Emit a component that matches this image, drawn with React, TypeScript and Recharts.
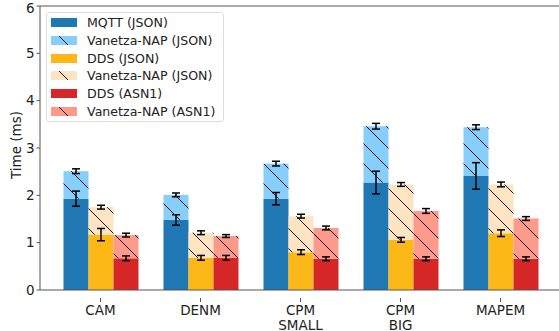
import React from "react";
import { BarChart, Bar, XAxis, YAxis, ErrorBar, ReferenceLine } from "recharts";

const categories = ["CAM", "DENM", "CPM\nSMALL", "CPM\nBIG", "MAPEM"];

// base segments + their errors
const mqttJson = [1.93, 1.48, 1.93, 2.27, 2.41];
const mqttJsonErr = [0.16, 0.11, 0.13, 0.24, 0.28];
const ddsJson = [1.17, 0.68, 0.8, 1.06, 1.2];
const ddsJsonErr = [0.13, 0.05, 0.05, 0.05, 0.07];
const ddsAsn1 = [0.67, 0.68, 0.66, 0.66, 0.66];
const ddsAsn1Err = [0.05, 0.05, 0.04, 0.04, 0.04];

// Vanetza-NAP segments stacked on top
const napMqtt = [0.58, 0.53, 0.74, 1.19, 1.03];
const napMqttErr = [0.05, 0.04, 0.05, 0.06, 0.05];
const napDdsJson = [0.58, 0.53, 0.76, 1.17, 1.03];
const napDdsJsonErr = [0.04, 0.04, 0.04, 0.04, 0.05];
const napDdsAsn1 = [0.49, 0.46, 0.65, 1.01, 0.85];
const napDdsAsn1Err = [0.04, 0.03, 0.04, 0.05, 0.04];

const yTicks = [0, 1, 2, 3, 4, 5, 6];

const data = categories.map((name, i) => ({
  name,
  mqtt: mqttJson[i],
  mqttErr: mqttJsonErr[i],
  napA: napMqtt[i],
  napAErr: napMqttErr[i],
  dds: ddsJson[i],
  ddsErr: ddsJsonErr[i],
  napB: napDdsJson[i],
  napBErr: napDdsJsonErr[i],
  asn: ddsAsn1[i],
  asnErr: ddsAsn1Err[i],
  napC: napDdsAsn1[i],
  napCErr: napDdsAsn1Err[i],
}));

const FONT = "DejaVu Sans, sans-serif";
const AXIS = "#555";

const colors = {
  blue: "#1f77b4",
  lightBlue: "#87cefa",
  orange: "#fcb817",
  peach: "#ffe4c4",
  red: "#d62728",
  salmon: "#fd9a8c",
};

function Hatch({ id, fill, size = 20 }: { id: string; fill: string; size?: number }) {
  return (
    <pattern id={id} patternUnits="userSpaceOnUse" width={size} height={size}>
      <rect width={size} height={size} fill={fill} />
      <path
        d={`M0,0 L${size},${size} M${-size / 2},${size / 2} L${size / 2},${size * 1.5} M${size / 2},${-size / 2} L${size * 1.5},${size / 2}`}
        stroke="#000"
        strokeWidth={0.9}
      />
    </pattern>
  );
}

const legendItems = [
  { label: "MQTT (JSON)", fill: colors.blue, hatch: false },
  { label: "Vanetza-NAP (JSON)", fill: colors.lightBlue, hatch: true },
  { label: "DDS (JSON)", fill: colors.orange, hatch: false },
  { label: "Vanetza-NAP (JSON)", fill: colors.peach, hatch: true },
  { label: "DDS (ASN1)", fill: colors.red, hatch: false },
  { label: "Vanetza-NAP (ASN1)", fill: colors.salmon, hatch: true },
];

function LegendBox() {
  return (
    <div
      style={{
        position: "absolute",
        left: 46,
        top: 12,
        border: "1px solid #ddd",
        borderRadius: 3,
        background: "rgba(255,255,255,0.85)",
        padding: "1px 8px 1px 4px",
        fontFamily: FONT,
        fontSize: 12.6,
        color: "#222",
      }}
    >
      {legendItems.map((it, i) => (
        <div key={i} style={{ display: "flex", alignItems: "center", height: 17.7 }}>
          <svg width={26} height={9} style={{ marginRight: 10 }}>
            <rect width={26} height={9} fill={it.fill} />
            {it.hatch && <line x1={8} y1={0} x2={17} y2={9} stroke="#000" strokeWidth={0.9} />}
          </svg>
          <span>{it.label}</span>
        </div>
      ))}
    </div>
  );
}

function XTick({ x, y, payload }: any) {
  const lines = String(payload.value).split("\n");
  return (
    <g transform={`translate(${x},${y})`}>
      <line x1={0} y1={0} x2={0} y2={4} stroke={AXIS} />
      <text textAnchor="middle" fontFamily={FONT} fontSize={13.5} fill="#222">
        {lines.map((l, i) => (
          <tspan key={i} x={0} y={17 + i * 15}>
            {l}
          </tspan>
        ))}
      </text>
    </g>
  );
}

function YLabel() {
  return (
    <text
      x={16}
      y={145}
      transform="rotate(-90 16 145)"
      textAnchor="middle"
      dominantBaseline="central"
      fontFamily={FONT}
      fontSize={13.5}
      fill="#222"
    >
      Time (ms)
    </text>
  );
}

export default function App() {
  return (
    <div style={{ position: "absolute", left: 0, top: 0, width: 559, height: 331, overflow: "hidden", background: "#fff" }}>
      <BarChart
        width={570}
        height={331}
        data={data}
        margin={{ top: 6, right: 9, left: 0, bottom: 0 }}
        barSize={25}
        barGap={0}
      >
        <defs>
          <Hatch id="hA" fill={colors.lightBlue} />
          <Hatch id="hB" fill={colors.peach} />
          <Hatch id="hC" fill={colors.salmon} />
        </defs>
        <XAxis
          dataKey="name"
          height={41}
          padding={{ left: 10.5, right: 10.5 }}
          stroke={AXIS}
          tickLine={false}
          tick={<XTick />}
          interval={0}
        />
        <YAxis
          width={40}
          domain={[0, 6]}
          ticks={yTicks}
          stroke={AXIS}
          tickSize={3.5}
          tick={{ fontSize: 13.5, fill: "#222", fontFamily: FONT }}
          label={{ content: <YLabel /> }}
        />
        <ReferenceLine y={6} stroke={AXIS} ifOverflow="visible" />
        <Bar dataKey="mqtt" stackId="a" fill={colors.blue} isAnimationActive={false}>
          <ErrorBar dataKey="mqttErr" width={4} stroke="#000" strokeWidth={1.5} />
        </Bar>
        <Bar dataKey="napA" stackId="a" fill="url(#hA)" isAnimationActive={false}>
          <ErrorBar dataKey="napAErr" width={4} stroke="#000" strokeWidth={1.5} />
        </Bar>
        <Bar dataKey="dds" stackId="b" fill={colors.orange} isAnimationActive={false}>
          <ErrorBar dataKey="ddsErr" width={4} stroke="#000" strokeWidth={1.5} />
        </Bar>
        <Bar dataKey="napB" stackId="b" fill="url(#hB)" isAnimationActive={false}>
          <ErrorBar dataKey="napBErr" width={4} stroke="#000" strokeWidth={1.5} />
        </Bar>
        <Bar dataKey="asn" stackId="c" fill={colors.red} isAnimationActive={false}>
          <ErrorBar dataKey="asnErr" width={4} stroke="#000" strokeWidth={1.5} />
        </Bar>
        <Bar dataKey="napC" stackId="c" fill="url(#hC)" isAnimationActive={false}>
          <ErrorBar dataKey="napCErr" width={4} stroke="#000" strokeWidth={1.5} />
        </Bar>
      </BarChart>
      <LegendBox />
    </div>
  );
}
